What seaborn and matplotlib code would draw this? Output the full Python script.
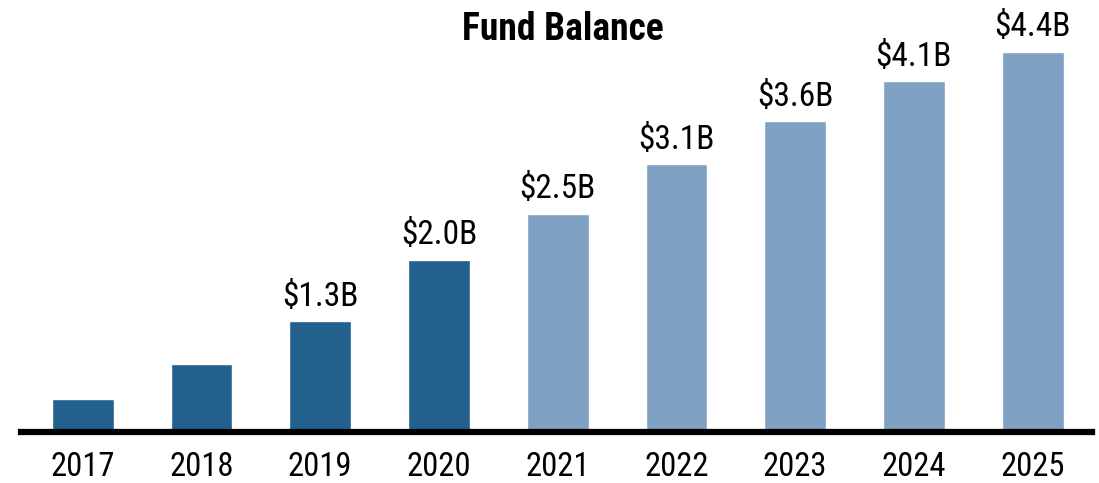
import pandas as pd
import numpy as np
import matplotlib
matplotlib.use('Agg')
import matplotlib.pyplot as plt
import seaborn as sns
sns.set_style("white")
plt.rcParams['font.family'] = ['Roboto Condensed', 'Liberation Sans Narrow', 'Roboto', 'DejaVu Sans']

years = ['2017', '2018', '2019', '2020', '2021', '2022', '2023', '2024', '2025']
balance = [0.38, 0.79, 1.28, 1.99, 2.52, 3.09, 3.59, 4.05, 4.39]
labels = ['', '', '$1.3B', '$2.0B', '$2.5B', '$3.1B', '$3.6B', '$4.1B', '$4.4B']
period = ['actual'] * 4 + ['projected'] * 5

df = pd.DataFrame({'year': years, 'balance': balance, 'period': period})

fig = plt.figure(figsize=(10.99, 4.83), dpi=100)
ax = fig.add_axes([21/1099, 51/483, 1071/1099, 432/483])
sns.barplot(data=df, x='year', y='balance', hue='period',
            palette={'actual': '#22618E', 'projected': '#7FA1C4'},
            saturation=1, width=0.52, dodge=False, legend=False, ax=ax)
for i, (v, t) in enumerate(zip(balance, labels)):
    if t:
        ax.text(i, v + 0.1, t, ha='center', va='bottom', fontsize=24, color='black')
ax.set_xlim(-0.52, 8.5)
ax.set_ylim(0, 4.99)
ax.set_xlabel('')
ax.set_ylabel('')
ax.set_yticks([])
sns.despine(ax=ax, left=True)
ax.spines['bottom'].set_linewidth(4.5)
ax.spines['bottom'].set_color('black')
ax.tick_params(axis='x', length=0, labelsize=23.5, pad=14, labelcolor='black')
fig.text(563/1099, 1 - 29/483, 'Fund Balance', ha='center', va='center',
         fontsize=27, fontweight='bold', color='black')
fig.savefig('out.png', dpi=100)
plt.close()
